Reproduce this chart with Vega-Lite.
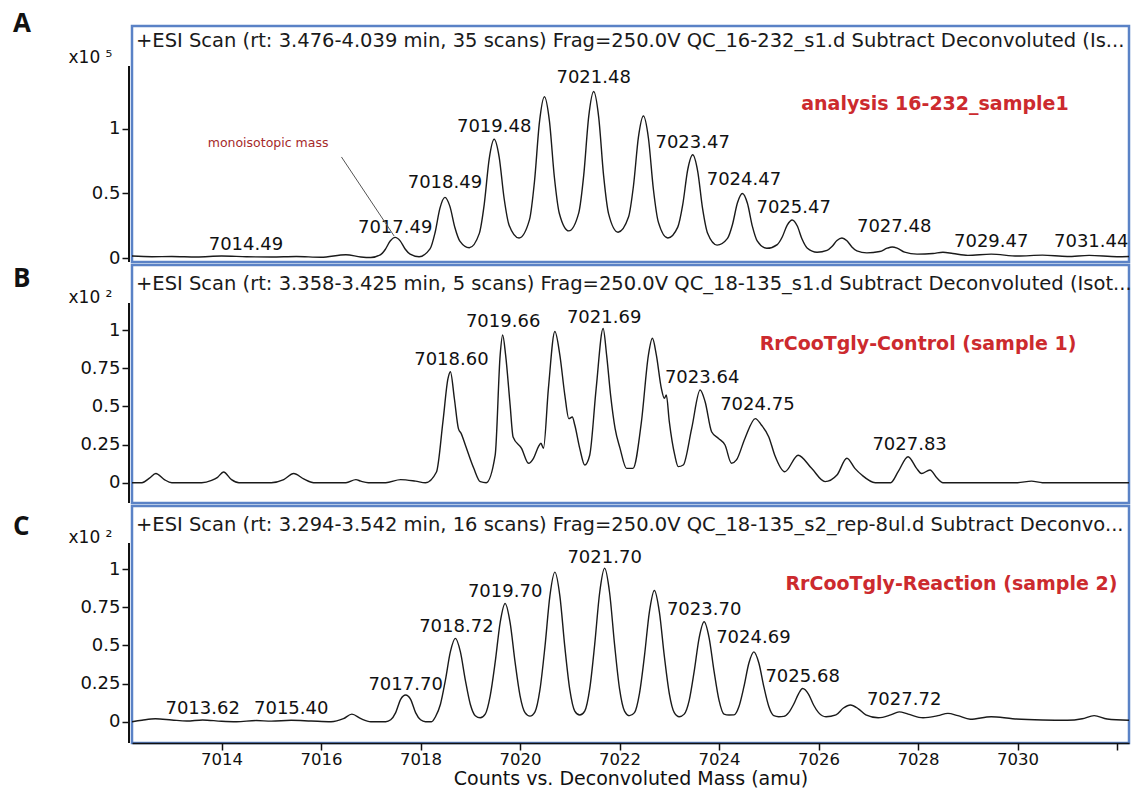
{
  "$schema": "https://vega.github.io/schema/vega-lite/v6.json",
  "background": "white",
  "padding": {"left": 11, "top": 9, "right": 0, "bottom": 0},
  "config": {
    "font": "DejaVu Sans",
    "view": {"stroke": "#5a82c6", "strokeWidth": 2.5},
    "axis": {"grid": false},
    "title": {"font": "Open Sans", "fontSize": 26, "fontWeight": "bold", "color": "#111", "anchor": "start", "frame": "group", "baseline": "top", "dx": -119}
  },
  "datasets": {
    "specA": [
      {"mass":7012.2,"counts":0.015},{"mass":7012.6,"counts":0.01},{"mass":7013.0,"counts":0.012},{"mass":7013.5,"counts":0.008},{"mass":7014.0,"counts":0.015},{"mass":7014.5,"counts":0.01},{"mass":7015.0,"counts":0.008},{"mass":7015.5,"counts":0.012},{"mass":7016.0,"counts":0.006},{"mass":7016.5,"counts":0.025},{"mass":7016.8,"counts":0.008},{"mass":7017.0,"counts":0.004},
      {"mass":7017.19,"counts":0.024},{"mass":7017.29,"counts":0.066},{"mass":7017.39,"counts":0.132},{"mass":7017.49,"counts":0.16},{"mass":7017.59,"counts":0.133},{"mass":7017.69,"counts":0.07},{"mass":7017.79,"counts":0.03},{"mass":7017.97,"counts":0.01},
      {"mass":7018.19,"counts":0.07},{"mass":7018.29,"counts":0.194},{"mass":7018.39,"counts":0.387},{"mass":7018.49,"counts":0.47},{"mass":7018.59,"counts":0.40},{"mass":7018.69,"counts":0.236},{"mass":7018.79,"counts":0.131},{"mass":7018.98,"counts":0.08},
      {"mass":7019.18,"counts":0.189},{"mass":7019.28,"counts":0.416},{"mass":7019.38,"counts":0.769},{"mass":7019.48,"counts":0.92},{"mass":7019.58,"counts":0.782},{"mass":7019.68,"counts":0.461},{"mass":7019.78,"counts":0.254},{"mass":7019.98,"counts":0.155},
      {"mass":7020.19,"counts":0.297},{"mass":7020.29,"counts":0.593},{"mass":7020.39,"counts":1.053},{"mass":7020.49,"counts":1.25},{"mass":7020.59,"counts":1.063},{"mass":7020.69,"counts":0.626},{"mass":7020.79,"counts":0.345},{"mass":7020.98,"counts":0.21},
      {"mass":7021.18,"counts":0.35},{"mass":7021.28,"counts":0.642},{"mass":7021.38,"counts":1.096},{"mass":7021.48,"counts":1.29},{"mass":7021.58,"counts":1.094},{"mass":7021.68,"counts":0.636},{"mass":7021.78,"counts":0.342},{"mass":7021.97,"counts":0.20},
      {"mass":7022.18,"counts":0.317},{"mass":7022.28,"counts":0.56},{"mass":7022.38,"counts":0.938},{"mass":7022.48,"counts":1.10},{"mass":7022.58,"counts":0.93},{"mass":7022.68,"counts":0.533},{"mass":7022.78,"counts":0.278},{"mass":7022.97,"counts":0.155},
      {"mass":7023.17,"counts":0.239},{"mass":7023.27,"counts":0.413},{"mass":7023.37,"counts":0.684},{"mass":7023.47,"counts":0.80},{"mass":7023.57,"counts":0.674},{"mass":7023.67,"counts":0.38},{"mass":7023.77,"counts":0.191},{"mass":7023.96,"counts":0.10},
      {"mass":7024.17,"counts":0.152},{"mass":7024.27,"counts":0.26},{"mass":7024.37,"counts":0.428},{"mass":7024.47,"counts":0.50},{"mass":7024.57,"counts":0.424},{"mass":7024.67,"counts":0.245},{"mass":7024.77,"counts":0.13},{"mass":7024.96,"counts":0.075},
      {"mass":7025.17,"counts":0.104},{"mass":7025.27,"counts":0.163},{"mass":7025.37,"counts":0.255},{"mass":7025.47,"counts":0.295},{"mass":7025.57,"counts":0.25},{"mass":7025.67,"counts":0.145},{"mass":7025.77,"counts":0.078},{"mass":7025.97,"counts":0.045},
      {"mass":7026.17,"counts":0.059},{"mass":7026.27,"counts":0.089},{"mass":7026.37,"counts":0.135},{"mass":7026.47,"counts":0.155},{"mass":7026.57,"counts":0.134},{"mass":7026.67,"counts":0.086},{"mass":7026.77,"counts":0.055},{"mass":7026.97,"counts":0.04},
      {"mass":7027.23,"counts":0.05},{"mass":7027.38,"counts":0.076},{"mass":7027.48,"counts":0.085},{"mass":7027.58,"counts":0.076},{"mass":7027.73,"counts":0.045},{"mass":7027.98,"counts":0.03},
      {"mass":7028.3,"counts":0.035},{"mass":7028.5,"counts":0.045},{"mass":7028.7,"counts":0.035},{"mass":7029.0,"counts":0.02},{"mass":7029.47,"counts":0.03},{"mass":7030.0,"counts":0.015},{"mass":7030.5,"counts":0.022},{"mass":7031.0,"counts":0.012},{"mass":7031.44,"counts":0.02},{"mass":7032.0,"counts":0.01},{"mass":7032.24,"counts":0.012}
    ],
    "specB": [
      {"mass":7012.2,"counts":0},{"mass":7012.4,"counts":0},{"mass":7012.55,"counts":0.03},{"mass":7012.68,"counts":0.06},{"mass":7012.85,"counts":0.02},{"mass":7013.0,"counts":0},{"mass":7013.6,"counts":0},{"mass":7013.8,"counts":0.015},{"mass":7013.92,"counts":0.035},{"mass":7014.04,"counts":0.07},{"mass":7014.2,"counts":0.02},{"mass":7014.35,"counts":0},{"mass":7015.0,"counts":0},{"mass":7015.25,"counts":0.02},{"mass":7015.45,"counts":0.06},{"mass":7015.65,"counts":0.025},{"mass":7015.85,"counts":0},{"mass":7016.5,"counts":0},{"mass":7016.7,"counts":0.02},{"mass":7016.8,"counts":0.01},{"mass":7016.95,"counts":0},{"mass":7017.3,"counts":0},{"mass":7017.6,"counts":0.02},{"mass":7017.9,"counts":0.01},{"mass":7018.1,"counts":0},
      {"mass":7018.32,"counts":0.07},{"mass":7018.45,"counts":0.40},{"mass":7018.55,"counts":0.68},{"mass":7018.6,"counts":0.727},{"mass":7018.68,"counts":0.55},{"mass":7018.76,"counts":0.356},{"mass":7018.82,"counts":0.32},{"mass":7018.9,"counts":0.247},{"mass":7019.07,"counts":0.094},{"mass":7019.2,"counts":0.007},{"mass":7019.32,"counts":0.0},{"mass":7019.5,"counts":0.18},{"mass":7019.6,"counts":0.836},{"mass":7019.65,"counts":0.967},
      {"mass":7019.71,"counts":0.836},{"mass":7019.8,"counts":0.51},{"mass":7019.86,"counts":0.30},{"mass":7020.03,"counts":0.225},{"mass":7020.17,"counts":0.127},{"mass":7020.27,"counts":0.16},{"mass":7020.37,"counts":0.236},{"mass":7020.42,"counts":0.258},{"mass":7020.47,"counts":0.225},{"mass":7020.57,"counts":0.618},{"mass":7020.7,"counts":0.99},
      {"mass":7020.8,"counts":0.836},{"mass":7020.9,"counts":0.574},{"mass":7020.98,"counts":0.42},{"mass":7021.05,"counts":0.43},{"mass":7021.1,"counts":0.378},{"mass":7021.2,"counts":0.225},{"mass":7021.3,"counts":0.116},{"mass":7021.4,"counts":0.18},{"mass":7021.53,"counts":0.618},{"mass":7021.67,"counts":1.01},
      {"mass":7021.74,"counts":0.836},{"mass":7021.82,"counts":0.574},{"mass":7021.91,"counts":0.356},{"mass":7022.01,"counts":0.225},{"mass":7022.14,"counts":0.094},{"mass":7022.27,"counts":0.094},{"mass":7022.44,"counts":0.40},{"mass":7022.58,"counts":0.836},{"mass":7022.66,"counts":0.946},
      {"mass":7022.74,"counts":0.836},{"mass":7022.84,"counts":0.618},{"mass":7022.9,"counts":0.553},{"mass":7022.94,"counts":0.574},{"mass":7023.0,"counts":0.40},{"mass":7023.11,"counts":0.18},{"mass":7023.18,"counts":0.105},{"mass":7023.28,"counts":0.116},{"mass":7023.45,"counts":0.356},{"mass":7023.62,"counts":0.607},
      {"mass":7023.72,"counts":0.53},{"mass":7023.85,"counts":0.334},{"mass":7023.99,"counts":0.29},{"mass":7024.12,"counts":0.247},{"mass":7024.25,"counts":0.127},{"mass":7024.35,"counts":0.149},{"mass":7024.52,"counts":0.29},{"mass":7024.73,"counts":0.42},{"mass":7024.85,"counts":0.378},{"mass":7025.0,"counts":0.30},{"mass":7025.12,"counts":0.18},{"mass":7025.32,"counts":0.072},{"mass":7025.59,"counts":0.18},{"mass":7025.86,"counts":0.094},{"mass":7026.13,"counts":0.007},{"mass":7026.37,"counts":0.05},{"mass":7026.57,"counts":0.16},{"mass":7026.73,"counts":0.094},{"mass":7026.87,"counts":0.05},{"mass":7027.14,"counts":0.0},{"mass":7027.45,"counts":0.0},{"mass":7027.6,"counts":0.072},{"mass":7027.8,"counts":0.17},{"mass":7027.97,"counts":0.094},{"mass":7028.07,"counts":0.06},{"mass":7028.24,"counts":0.083},{"mass":7028.38,"counts":0.03},{"mass":7028.5,"counts":0.0},{"mass":7030.0,"counts":0.0},{"mass":7030.28,"counts":0.01},{"mass":7030.5,"counts":0.0},{"mass":7032.24,"counts":0.0}
    ],
    "specC": [
      {"mass":7012.2,"counts":0.0},{"mass":7012.4,"counts":0.01},{"mass":7012.67,"counts":0.02},{"mass":7013.0,"counts":0.012},{"mass":7013.3,"counts":0.005},{"mass":7013.62,"counts":0.012},{"mass":7014.0,"counts":0.003},{"mass":7014.3,"counts":0.0},{"mass":7014.7,"counts":0.008},{"mass":7015.0,"counts":0.004},{"mass":7015.4,"counts":0.01},{"mass":7015.8,"counts":0.005},{"mass":7016.2,"counts":0.0},{"mass":7016.45,"counts":0.02},{"mass":7016.62,"counts":0.05},{"mass":7016.8,"counts":0.02},{"mass":7017.0,"counts":0.0},{"mass":7017.3,"counts":0.0},
      {"mass":7017.4,"counts":0.013},{"mass":7017.5,"counts":0.06},{"mass":7017.6,"counts":0.147},{"mass":7017.7,"counts":0.175},{"mass":7017.8,"counts":0.147},{"mass":7017.9,"counts":0.06},{"mass":7018.0,"counts":0.013},{"mass":7018.1,"counts":0.0},{"mass":7018.22,"counts":0.0},
      {"mass":7018.3,"counts":0.033},{"mass":7018.4,"counts":0.115},{"mass":7018.5,"counts":0.273},{"mass":7018.6,"counts":0.459},{"mass":7018.7,"counts":0.546},{"mass":7018.8,"counts":0.459},{"mass":7018.9,"counts":0.273},{"mass":7019.0,"counts":0.115},{"mass":7019.1,"counts":0.04},{"mass":7019.2,"counts":0.026},
      {"mass":7019.3,"counts":0.05},{"mass":7019.4,"counts":0.17},{"mass":7019.5,"counts":0.39},{"mass":7019.6,"counts":0.65},{"mass":7019.7,"counts":0.775},{"mass":7019.8,"counts":0.65},{"mass":7019.9,"counts":0.39},{"mass":7020.0,"counts":0.17},{"mass":7020.1,"counts":0.06},{"mass":7020.2,"counts":0.037},
      {"mass":7020.3,"counts":0.065},{"mass":7020.4,"counts":0.21},{"mass":7020.5,"counts":0.49},{"mass":7020.6,"counts":0.825},{"mass":7020.7,"counts":0.98},{"mass":7020.8,"counts":0.825},{"mass":7020.9,"counts":0.49},{"mass":7021.0,"counts":0.21},{"mass":7021.1,"counts":0.07},{"mass":7021.2,"counts":0.044},
      {"mass":7021.3,"counts":0.07},{"mass":7021.4,"counts":0.215},{"mass":7021.5,"counts":0.505},{"mass":7021.6,"counts":0.845},{"mass":7021.7,"counts":1.005},{"mass":7021.8,"counts":0.845},{"mass":7021.9,"counts":0.505},{"mass":7022.0,"counts":0.215},{"mass":7022.1,"counts":0.07},{"mass":7022.2,"counts":0.04},
      {"mass":7022.3,"counts":0.06},{"mass":7022.4,"counts":0.185},{"mass":7022.5,"counts":0.43},{"mass":7022.6,"counts":0.72},{"mass":7022.7,"counts":0.86},{"mass":7022.8,"counts":0.72},{"mass":7022.9,"counts":0.43},{"mass":7023.0,"counts":0.185},{"mass":7023.1,"counts":0.06},{"mass":7023.2,"counts":0.033},
      {"mass":7023.3,"counts":0.05},{"mass":7023.4,"counts":0.14},{"mass":7023.5,"counts":0.33},{"mass":7023.6,"counts":0.55},{"mass":7023.7,"counts":0.655},{"mass":7023.8,"counts":0.55},{"mass":7023.9,"counts":0.33},{"mass":7024.0,"counts":0.14},{"mass":7024.1,"counts":0.05},{"mass":7024.2,"counts":0.044},
      {"mass":7024.3,"counts":0.045},{"mass":7024.4,"counts":0.1},{"mass":7024.5,"counts":0.23},{"mass":7024.6,"counts":0.385},{"mass":7024.7,"counts":0.458},{"mass":7024.8,"counts":0.385},{"mass":7024.9,"counts":0.23},{"mass":7025.0,"counts":0.1},{"mass":7025.1,"counts":0.04},{"mass":7025.2,"counts":0.033},
      {"mass":7025.3,"counts":0.035},{"mass":7025.4,"counts":0.06},{"mass":7025.5,"counts":0.115},{"mass":7025.6,"counts":0.185},{"mass":7025.68,"counts":0.218},{"mass":7025.8,"counts":0.18},{"mass":7025.9,"counts":0.11},{"mass":7026.0,"counts":0.06},{"mass":7026.15,"counts":0.033},
      {"mass":7026.35,"counts":0.045},{"mass":7026.5,"counts":0.09},{"mass":7026.64,"counts":0.11},{"mass":7026.8,"counts":0.085},{"mass":7026.95,"counts":0.045},{"mass":7027.2,"counts":0.026},
      {"mass":7027.45,"counts":0.045},{"mass":7027.62,"counts":0.065},{"mass":7027.8,"counts":0.05},{"mass":7028.1,"counts":0.026},{"mass":7028.4,"counts":0.04},{"mass":7028.6,"counts":0.055},{"mass":7028.8,"counts":0.04},{"mass":7029.05,"counts":0.017},{"mass":7029.47,"counts":0.033},{"mass":7029.9,"counts":0.02},{"mass":7030.5,"counts":0.012},{"mass":7031.0,"counts":0.01},{"mass":7031.3,"counts":0.02},{"mass":7031.54,"counts":0.04},{"mass":7031.8,"counts":0.018},{"mass":7032.24,"counts":0.01}
    ],
    "labelsA": [
      {"mass":7014.49,"counts":0.0,"label":"7014.49"},{"mass":7017.49,"counts":0.13,"label":"7017.49"},{"mass":7018.49,"counts":0.48,"label":"7018.49"},{"mass":7019.48,"counts":0.915,"label":"7019.48"},{"mass":7021.48,"counts":1.295,"label":"7021.48"},{"mass":7023.47,"counts":0.79,"label":"7023.47"},{"mass":7024.5,"counts":0.5,"label":"7024.47"},{"mass":7025.5,"counts":0.287,"label":"7025.47"},{"mass":7027.52,"counts":0.14,"label":"7027.48"},{"mass":7029.47,"counts":0.023,"label":"7029.47"},{"mass":7031.48,"counts":0.023,"label":"7031.44"}
    ],
    "labelsB": [
      {"mass":7018.62,"counts":0.718,"label":"7018.60"},{"mass":7019.66,"counts":0.969,"label":"7019.66"},{"mass":7021.69,"counts":0.993,"label":"7021.69"},{"mass":7023.66,"counts":0.60,"label":"7023.64"},{"mass":7024.77,"counts":0.424,"label":"7024.75"},{"mass":7027.83,"counts":0.162,"label":"7027.83"}
    ],
    "labelsC": [
      {"mass":7013.62,"counts":0.0,"label":"7013.62"},{"mass":7015.4,"counts":0.0,"label":"7015.40"},{"mass":7017.7,"counts":0.155,"label":"7017.70"},{"mass":7018.72,"counts":0.537,"label":"7018.72"},{"mass":7019.7,"counts":0.766,"label":"7019.70"},{"mass":7021.7,"counts":0.985,"label":"7021.70"},{"mass":7023.7,"counts":0.646,"label":"7023.70"},{"mass":7024.69,"counts":0.461,"label":"7024.69"},{"mass":7025.68,"counts":0.21,"label":"7025.68"},{"mass":7027.72,"counts":0.057,"label":"7027.72"}
    ]
  },
  "vconcat": [
    {
      "width": 997, "height": 236,
      "title": {"text": "A", "offset": -11},
      "layer": [
        {
          "data": {"name": "specA"},
          "mark": {"type": "line", "interpolate": "monotone", "stroke": "#1a1a1a", "strokeWidth": 1.4},
          "encoding": {
            "x": {"field": "mass", "type": "quantitative", "scale": {"domain": [7012.2, 7032.24], "nice": false, "zero": false}, "axis": null},
            "y": {"field": "counts", "type": "quantitative", "scale": {"domain": [-0.031, 1.798], "nice": false, "zero": false},
                  "axis": {"values": [0, 0.5, 1], "format": "~g", "domain": false, "offset": 3, "tickSize": 7, "tickColor": "#111", "tickWidth": 1.5, "labelFontSize": 18, "labelColor": "#111", "labelPadding": 2, "title": "x10 ⁵", "titleAngle": 0, "titleAlign": "left", "titleBaseline": "alphabetic", "titleX": -61, "titleY": 36, "titleFontSize": 17, "titleFontWeight": "normal", "titleColor": "#111"}}
          }
        },
        {
          "data": {"values": [{"axis": "y"}]},
          "mark": {"type": "rule", "xOffset": -3, "strokeWidth": 2, "color": "#111"},
          "encoding": {"x": {"datum": 7012.2, "type": "quantitative"}, "y": {"datum": 1.488, "type": "quantitative"}, "y2": {"datum": -0.031}}
        },
        {
          "data": {"values": [{"text": "+ESI Scan (rt: 3.476-4.039 min, 35 scans) Frag=250.0V QC_16-232_s1.d  Subtract Deconvoluted (Is..."}]},
          "mark": {"type": "text", "align": "left", "baseline": "alphabetic", "dx": 4, "dy": 21, "fontSize": 19.5, "color": "#1a1a1a"},
          "encoding": {"x": {"datum": 7012.2, "type": "quantitative"}, "y": {"datum": 1.798, "type": "quantitative"}, "text": {"field": "text"}}
        },
        {
          "data": {"name": "labelsA"},
          "mark": {"type": "text", "baseline": "alphabetic", "dy": -8, "fontSize": 18, "color": "#111"},
          "encoding": {"x": {"field": "mass", "type": "quantitative"}, "y": {"field": "counts", "type": "quantitative"}, "text": {"field": "label"}}
        },
        {
          "data": {"values": [{"mass": 7028.34, "counts": 1.147, "label": "analysis 16-232_sample1"}]},
          "mark": {"type": "text", "baseline": "alphabetic", "fontSize": 19, "fontWeight": "bold", "color": "#cc2a2e"},
          "encoding": {"x": {"field": "mass", "type": "quantitative"}, "y": {"field": "counts", "type": "quantitative"}, "text": {"field": "label"}}
        },
        {
          "data": {"values": [{"mass": 7014.935, "counts": 0.86, "label": "monoisotopic mass"}]},
          "mark": {"type": "text", "baseline": "alphabetic", "fontSize": 12.5, "color": "#a52a2a"},
          "encoding": {"x": {"field": "mass", "type": "quantitative"}, "y": {"field": "counts", "type": "quantitative"}, "text": {"field": "label"}}
        },
        {
          "data": {"values": [{"mass": 7016.41, "counts": 0.783, "mass2": 7017.47, "counts2": 0.17}]},
          "mark": {"type": "rule", "color": "#555", "strokeWidth": 1},
          "encoding": {"x": {"field": "mass", "type": "quantitative"}, "y": {"field": "counts", "type": "quantitative"}, "x2": {"field": "mass2"}, "y2": {"field": "counts2"}}
        }
      ]
    },
    {
      "width": 997, "height": 238,
      "title": {"text": "B", "offset": -27},
      "layer": [
        {
          "data": {"name": "specB"},
          "mark": {"type": "line", "interpolate": "monotone", "stroke": "#1a1a1a", "strokeWidth": 1.4},
          "encoding": {
            "x": {"field": "mass", "type": "quantitative", "scale": {"domain": [7012.2, 7032.24], "nice": false, "zero": false}, "axis": null},
            "y": {"field": "counts", "type": "quantitative", "scale": {"domain": [-0.133, 1.426], "nice": false, "zero": false},
                  "axis": {"values": [0, 0.25, 0.5, 0.75, 1], "format": "~g", "domain": false, "offset": 3, "tickSize": 7, "tickColor": "#111", "tickWidth": 1.5, "labelFontSize": 18, "labelColor": "#111", "labelPadding": 2, "title": "x10 ²", "titleAngle": 0, "titleAlign": "left", "titleBaseline": "alphabetic", "titleX": -61, "titleY": 37, "titleFontSize": 17, "titleFontWeight": "normal", "titleColor": "#111"}}
          }
        },
        {
          "data": {"values": [{"axis": "y"}]},
          "mark": {"type": "rule", "xOffset": -3, "strokeWidth": 2, "color": "#111"},
          "encoding": {"x": {"datum": 7012.2, "type": "quantitative"}, "y": {"datum": 1.177, "type": "quantitative"}, "y2": {"datum": -0.133}}
        },
        {
          "data": {"values": [{"text": "+ESI Scan (rt: 3.358-3.425 min, 5 scans) Frag=250.0V QC_18-135_s1.d  Subtract Deconvoluted (Isot..."}]},
          "mark": {"type": "text", "align": "left", "baseline": "alphabetic", "dx": 4, "dy": 25, "fontSize": 19.5, "color": "#1a1a1a"},
          "encoding": {"x": {"datum": 7012.2, "type": "quantitative"}, "y": {"datum": 1.426, "type": "quantitative"}, "text": {"field": "text"}}
        },
        {
          "data": {"name": "labelsB"},
          "mark": {"type": "text", "baseline": "alphabetic", "dy": -8, "fontSize": 18, "color": "#111"},
          "encoding": {"x": {"field": "mass", "type": "quantitative"}, "y": {"field": "counts", "type": "quantitative"}, "text": {"field": "label"}}
        },
        {
          "data": {"values": [{"mass": 7028.0, "counts": 0.869, "label": "RrCooTgly-Control (sample 1)"}]},
          "mark": {"type": "text", "baseline": "alphabetic", "fontSize": 19, "fontWeight": "bold", "color": "#cc2a2e"},
          "encoding": {"x": {"field": "mass", "type": "quantitative"}, "y": {"field": "counts", "type": "quantitative"}, "text": {"field": "label"}}
        }
      ]
    },
    {
      "width": 997, "height": 237,
      "title": {"text": "C", "offset": -34},
      "layer": [
        {
          "data": {"name": "specC"},
          "mark": {"type": "line", "interpolate": "monotone", "stroke": "#1a1a1a", "strokeWidth": 1.4},
          "encoding": {
            "x": {"field": "mass", "type": "quantitative", "scale": {"domain": [7012.2, 7032.24], "nice": false, "zero": false},
                  "axis": {"values": [7014, 7016, 7018, 7020, 7022, 7024, 7026, 7028, 7030, 7032], "format": "d", "labelExpr": "datum.value > 7031 ? '' : datum.label", "offset": 0, "domainColor": "#111", "domainWidth": 1.5, "tickColor": "#111", "tickWidth": 1.5, "tickSize": 7, "labelFontSize": 16.5, "labelColor": "#111", "labelPadding": 1, "title": "Counts vs. Deconvoluted Mass (amu)", "titleFontSize": 19, "titleFontWeight": "normal", "titleColor": "#111", "titlePadding": 2}},
            "y": {"field": "counts", "type": "quantitative", "scale": {"domain": [-0.139, 1.413], "nice": false, "zero": false},
                  "axis": {"values": [0, 0.25, 0.5, 0.75, 1], "format": "~g", "domain": false, "offset": 3, "tickSize": 7, "tickColor": "#111", "tickWidth": 1.5, "labelFontSize": 18, "labelColor": "#111", "labelPadding": 2, "title": "x10 ²", "titleAngle": 0, "titleAlign": "left", "titleBaseline": "alphabetic", "titleX": -61, "titleY": 36, "titleFontSize": 17, "titleFontWeight": "normal", "titleColor": "#111"}}
          }
        },
        {
          "data": {"values": [{"axis": "y"}]},
          "mark": {"type": "rule", "xOffset": -3, "strokeWidth": 2, "color": "#111"},
          "encoding": {"x": {"datum": 7012.2, "type": "quantitative"}, "y": {"datum": 1.17, "type": "quantitative"}, "y2": {"datum": -0.139}}
        },
        {
          "data": {"values": [{"text": "+ESI Scan (rt: 3.294-3.542 min, 16 scans) Frag=250.0V QC_18-135_s2_rep-8ul.d  Subtract Deconvo..."}]},
          "mark": {"type": "text", "align": "left", "baseline": "alphabetic", "dx": 4, "dy": 25, "fontSize": 19.5, "color": "#1a1a1a"},
          "encoding": {"x": {"datum": 7012.2, "type": "quantitative"}, "y": {"datum": 1.413, "type": "quantitative"}, "text": {"field": "text"}}
        },
        {
          "data": {"name": "labelsC"},
          "mark": {"type": "text", "baseline": "alphabetic", "dy": -8, "fontSize": 18, "color": "#111"},
          "encoding": {"x": {"field": "mass", "type": "quantitative"}, "y": {"field": "counts", "type": "quantitative"}, "text": {"field": "label"}}
        },
        {
          "data": {"values": [{"mass": 7028.67, "counts": 0.862, "label": "RrCooTgly-Reaction (sample 2)"}]},
          "mark": {"type": "text", "baseline": "alphabetic", "fontSize": 19, "fontWeight": "bold", "color": "#cc2a2e"},
          "encoding": {"x": {"field": "mass", "type": "quantitative"}, "y": {"field": "counts", "type": "quantitative"}, "text": {"field": "label"}}
        }
      ]
    }
  ],
  "spacing": 3,
  "bounds": "flush",
  "resolve": {"scale": {"x": "independent", "y": "independent"}}
}
